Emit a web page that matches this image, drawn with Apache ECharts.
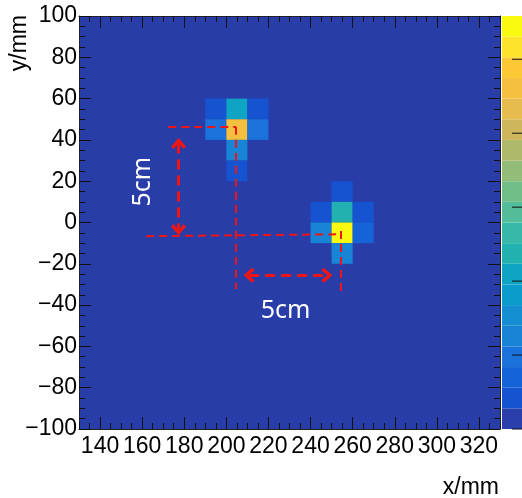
<!DOCTYPE html>
<html><head><meta charset="utf-8">
<script src="https://cdn.jsdelivr.net/npm/echarts@6/dist/echarts.min.js"></script>
<style>html,body{margin:0;padding:0;background:#fff}#c{width:522px;height:498px}</style>
</head><body><div id="c"></div>
<script>
// ---- data ----
const cellX = [190, 200, 210, 190, 200, 210, 200, 200, 250, 240, 250, 260, 240, 250, 260, 250];
const cellY = [50, 50, 50, 40, 40, 40, 30, 20, 10, 0, 0, 0, -10, -10, -10, -20];
const cellZ = [0.45, 2.05, 0.45, 1.0, 4.6, 1.0, 1.15, 0.45, 0.45, 0.45, 2.4, 0.45, 1.25, 5.58, 0.7, 1.25];
const binWidth = 10;
const zMax = 5.585;
const nLevels = 20;
const zTicks = [0, 1, 2, 3, 4, 5];
const palette = ['#2a3fab','#1553d0','#1464d8','#1a72da','#1884d6','#148fd2','#0c9ccc','#10a4c4','#22b0b0','#38b8a8',
                 '#52bd98','#72be88','#93bc78','#b0b86c','#cdb65c','#e5bc4d','#f5c040','#fcc834','#fde32a','#f9fa10'];
const xMajorTicks = [140, 160, 180, 200, 220, 240, 260, 280, 300, 320];
const guideLines = [
  [[172.4, 46.4], [204.5, 46.4]],
  [[204.5, 46.4], [204.5, -32.2]],
  [[161.9, -6.6], [254.3, -5.7]],
  [[254.3, -4.1], [254.3, -34.3]]
];
const arrowLines = [
  [[177.3, 38.2], [177.3, -3.4]],
  [[210.8, -25.6], [247.7, -25.6]]
];
const noteTexts = ['5cm', '5cm'];
const noteCoords = [[160.5, 19.8], [228.1, -42.9]];
const noteRotate = [90, 0];

// ---- build ----
const cells = cellX.map((x, i) => [x, cellY[i], cellZ[i]]);
const levelStep = zMax / nLevels;
const bands = palette.map((c, i) => [i * levelStep, (i + 1) * levelStep, (i + 0.5) * levelStep]);
const pieces = palette.map((c, i) => i === nLevels - 1
  ? { gte: i * levelStep, lte: zMax * 1.01, color: c }
  : { gte: i * levelStep, lt: (i + 1) * levelStep, color: c });

const FONT = 'Liberation Sans';
const RED = '#f01414';
const chevron = 'path://M5,0 L10,7.6 L8.3,10 L5,4.4 L1.7,10 L0,7.6 Z';

const chart = echarts.init(document.getElementById('c'), null, { renderer: 'canvas' });
const minus = v => String(v).replace('-', '\u2212');

chart.setOption({
  animation: false,
  grid: [
    { left: 79, right: 22, top: 16, bottom: 69, show: true, backgroundColor: '#293da9', borderWidth: 0,
      outerBoundsMode: 'none', containLabel: false },
    { left: 502, right: 0, top: 16, bottom: 69, show: false, outerBoundsMode: 'none', containLabel: false }
  ],
  xAxis: [
    { gridIndex: 0, type: 'value', position: 'bottom', min: 130, max: 330, interval: 5,
      axisLine: { show: true, onZero: false, lineStyle: { color: '#222', width: 1 } },
      axisTick: { show: true, inside: true, length: 6, lineStyle: { color: '#111' } },
      axisLabel: { show: false }, splitLine: { show: false } },
    { gridIndex: 0, type: 'value', position: 'bottom', min: 130, max: 330,
      axisLine: { show: false, onZero: false },
      axisTick: { show: true, inside: true, length: 12, customValues: xMajorTicks, lineStyle: { color: '#111' } },
      axisLabel: { show: true, customValues: xMajorTicks, fontFamily: FONT, fontSize: 23, color: '#000', margin: 6, hideOverlap: false },
      splitLine: { show: false } },
    { gridIndex: 0, type: 'value', position: 'top', min: 130, max: 330, interval: 5,
      axisLine: { show: true, onZero: false, lineStyle: { color: '#222', width: 1 } },
      axisTick: { show: true, inside: true, length: 6, lineStyle: { color: '#111' } },
      axisLabel: { show: false }, splitLine: { show: false } },
    { gridIndex: 0, type: 'value', position: 'top', min: 130, max: 330,
      axisLine: { show: false, onZero: false },
      axisTick: { show: true, inside: true, length: 12, customValues: xMajorTicks, lineStyle: { color: '#111' } },
      axisLabel: { show: false }, splitLine: { show: false } },
    { gridIndex: 1, type: 'value', min: 0, max: 1, show: false }
  ],
  yAxis: [
    { gridIndex: 0, type: 'value', position: 'left', min: -100, max: 100, interval: 20,
      axisLine: { show: true, onZero: false, lineStyle: { color: '#222', width: 1 } },
      axisTick: { show: true, inside: true, length: 12, lineStyle: { color: '#111' } },
      minorTick: { show: true, splitNumber: 4, length: 6, lineStyle: { color: '#111' } },
      axisLabel: { fontFamily: FONT, fontSize: 23, color: '#000', margin: 2, formatter: minus },
      splitLine: { show: false } },
    { gridIndex: 0, type: 'value', position: 'right', min: -100, max: 100, interval: 20,
      axisLine: { show: true, onZero: false, lineStyle: { color: '#222', width: 1 } },
      axisTick: { show: true, inside: true, length: 12, lineStyle: { color: '#111' } },
      minorTick: { show: true, splitNumber: 4, length: 6, lineStyle: { color: '#111' } },
      axisLabel: { show: false }, splitLine: { show: false } },
    { gridIndex: 1, type: 'value', position: 'right', min: 0, max: zMax, show: false }
  ],
  visualMap: {
    type: 'piecewise', show: false, dimension: 2, seriesIndex: [0, 1], pieces: pieces
  },
  series: [
    {
      type: 'custom', xAxisIndex: 0, yAxisIndex: 0, data: cells, z: 2,
      renderItem: (params, api) => {
        const x = api.value(0), y = api.value(1);
        const p1 = api.coord([x, y + binWidth]);
        const p2 = api.coord([x + binWidth, y]);
        return { type: 'rect', shape: { x: p1[0], y: p1[1], width: p2[0] - p1[0], height: p2[1] - p1[1] },
                 style: { fill: api.visual('color') } };
      }
    },
    {
      type: 'custom', xAxisIndex: 4, yAxisIndex: 2, data: bands, z: 1,
      renderItem: (params, api) => {
        const p1 = api.coord([0, api.value(1)]);
        const p2 = api.coord([1, api.value(0)]);
        return { type: 'rect', shape: { x: p1[0], y: p1[1], width: p2[0] - p1[0], height: p2[1] - p1[1] },
                 style: { fill: api.visual('color') } };
      }
    },
    {
      type: 'custom', xAxisIndex: 4, yAxisIndex: 2, data: zTicks.map(v => [v]), z: 8, silent: true,
      renderItem: (params, api) => {
        const p = api.coord([1, api.value(0)]);
        return { type: 'line', shape: { x1: p[0] - 10, y1: p[1], x2: p[0], y2: p[1] },
                 style: { stroke: '#111', lineWidth: 1 } };
      }
    },
    {
      type: 'line', xAxisIndex: 0, yAxisIndex: 0, data: [], z: 5, silent: true,
      markLine: {
        silent: true, animation: false, symbol: 'none', label: { show: false },
        lineStyle: { color: RED, type: [8, 5], width: 2 },
        emphasis: { disabled: true },
        data: guideLines.map(l => [{ coord: l[0] }, { coord: l[1] }])
      }
    },
    {
      type: 'line', xAxisIndex: 0, yAxisIndex: 0, data: [], z: 6, silent: true,
      markLine: {
        silent: true, animation: false, symbol: [chevron, chevron], symbolSize: [15, 11],
        label: { show: false },
        lineStyle: { color: RED, type: [10, 6], width: 3 },
        itemStyle: { color: RED },
        emphasis: { disabled: true },
        data: arrowLines.map(l => [{ coord: l[0] }, { coord: l[1] }])
      },
      markPoint: {
        silent: true, animation: false, symbol: 'circle', symbolSize: 0,
        label: { show: true, position: 'inside', color: '#fff', fontFamily: 'Noto Sans', fontSize: 25,
                 formatter: p => p.name },
        data: noteTexts.map((t, i) => ({ name: t, coord: noteCoords[i], label: { rotate: noteRotate[i] } }))
      }
    }
  ],
  graphic: [
    { type: 'text', x: 20, y: 15, rotation: Math.PI / 2,
      style: { text: 'y/mm', fontFamily: FONT, fontSize: 23, fill: '#000', align: 'right', verticalAlign: 'middle' } },
    { type: 'text', x: 499, y: 488,
      style: { text: 'x/mm', fontFamily: FONT, fontSize: 23, fill: '#000', align: 'right', verticalAlign: 'middle' } }
  ]
});
</script>
</body></html>
